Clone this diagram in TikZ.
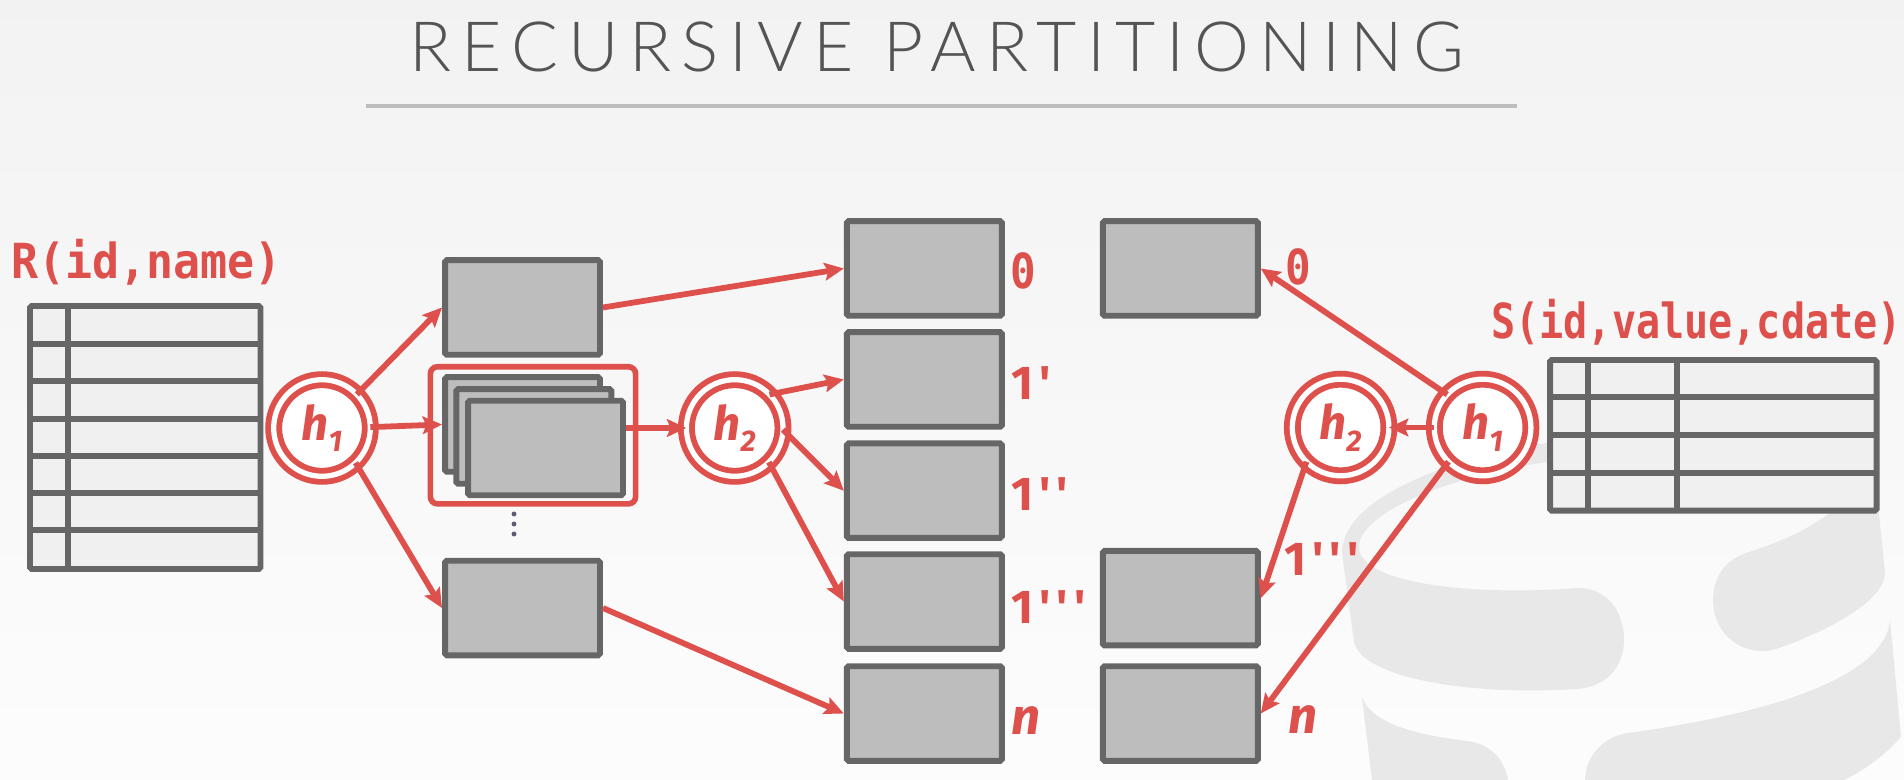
\documentclass[tikz,border=0pt]{standalone}
\usepackage{fontspec}
\usetikzlibrary{arrows.meta}
\newfontfamily\titlefont[LetterSpace=14.9]{Lato Light}
\newfontfamily\labelfont{DejaVu Sans Mono}
\newfontfamily\hashfont{Fira Sans}
\newfontfamily\primefont[LetterSpace=13]{Fira Sans}
\definecolor{slidered}{RGB}{222,80,76}
\definecolor{slidegrey}{RGB}{102,102,102}
\definecolor{slidebox}{RGB}{189,189,189}
\definecolor{slidecell}{RGB}{240,240,240}
\definecolor{slidemark}{RGB}{232,232,232}
\tikzset{
 partbox/.style={draw=slidegrey,fill=slidebox,line width=3.4pt,rounded corners=1pt,minimum width=88.2pt,minimum height=53.8pt,inner sep=0pt},
 hashnode/.style={circle,draw=slidered,double=white,double distance=3pt,line width=3.3pt,fill=white,minimum size=55pt,inner sep=0pt,outer sep=0pt,text=slidered,font=\hashfont\bfseries\itshape\fontsize{27}{30}\selectfont},
 redtext/.style={text=slidered,anchor=base west,inner sep=0pt,font=\labelfont\bfseries\fontsize{27.5}{30}\selectfont},
 primetext/.style={redtext,font=\primefont\bfseries\fontsize{27}{30}\selectfont},
 italtext/.style={redtext,font=\hashfont\bfseries\itshape\fontsize{29}{30}\selectfont},
 link/.style={->,draw=slidered,line width=3.3pt},
 gridline/.style={draw=slidegrey,line width=3.4pt},
}
\newcommand{\hashname}[1]{h\raisebox{-6.8pt}{\fontsize{17}{17}\selectfont #1}}
\newcommand{\narrow}[2]{\scalebox{#1}[1]{#2}}
\begin{document}
\begin{tikzpicture}[>={Stealth[length=11pt,width=10pt,inset=2pt]},x=.02cm,y=-.02cm]
\useasboundingbox (0,0) rectangle (1904,780);
\shade[top color=black!5,bottom color=black!1] (0,0) rectangle (1904,780);
% logo behind everything
\fill[slidemark] (1547,443) .. controls (1480,452) and (1342,490) .. (1342,553) -- (1354,642)
 .. controls (1362,678) and (1470,696) .. (1577,689) .. controls (1605,687) and (1624,668) .. (1624,640)
 .. controls (1624,610) and (1605,587) .. (1577,588) .. controls (1480,596) and (1359,585) .. (1359,547)
 .. controls (1359,515) and (1440,478) .. (1547,462) -- cycle;
\fill[slidemark] (1878,505) -- (1885,573) .. controls (1885,600) and (1830,630) .. (1779,648)
 .. controls (1745,660) and (1713,635) .. (1713,600) .. controls (1713,578) and (1725,560) .. (1746,553)
 .. controls (1780,542) and (1810,530) .. (1840,505) -- cycle;
\fill[slidemark] (1362,697) -- (1372,780) -- (1508,780) .. controls (1505,760) and (1490,743) .. (1466,741)
 .. controls (1420,735) and (1372,725) .. (1362,697) -- cycle;
\fill[slidemark] (1890,620) -- (1901,737) .. controls (1885,755) and (1865,770) .. (1844,780) -- (1585,780)
 .. controls (1585,760) and (1600,737) .. (1628,733) .. controls (1760,715) and (1885,680) .. (1890,620) -- cycle;
% title
\node[text=black!67,inner sep=0pt,anchor=base,font=\titlefont\fontsize{39.5}{45}\selectfont] (title) at (937,72) {RECURSIVE PARTITIONING};
\fill[slidebox] (366,104) rectangle (1517,108);
% R table
\fill[slidecell] (30,306) rectangle (260.5,569);
\foreach \y in {344,381,419,456,493,530}{
 \draw[gridline] (30,\y)--(260.5,\y);
}
\draw[gridline] (68,306)--(68,569);
\draw[gridline,rounded corners=1pt] (30,306) rectangle (260.5,569);
\node[redtext] (rlabel) at (11,279) {\narrow{.93}{R(id,name)}};
% S table
\fill[slidecell] (1550,360) rectangle (1876.5,510.7);
\foreach \y in {397,435,472.7}{
 \draw[gridline] (1550,\y)--(1876.5,\y);
}
\draw[gridline] (1587.5,360)--(1587.5,510.7);
\draw[gridline] (1676.5,360)--(1676.5,510.7);
\draw[gridline,rounded corners=1pt] (1550,360) rectangle (1876.5,510.7);
\node[redtext] (slabel) at (1491,339) {\narrow{.83}{S(id,value,cdate)}};
% first level
\foreach \n/\x/\y in {boxA/522.5/307.5,boxB/522.5/608,stackA/522.5/424.5,stackB/533.8/436.5,stackC/545.5/448}{
 \node[partbox] (\n) at (\x,\y) {};
}
\node[draw=slidered,line width=3.2pt,rounded corners=4pt,minimum width=116.8pt,minimum height=78pt,inner sep=0pt] (stackframe) at (533,435.3) {};
\foreach \y in {514,524,534}{
 \fill[slidegrey!90!blue] (514,\y) circle (1.4pt);
}
% partitions
\foreach \n/\x/\y in {outA/924.3/268.5,outB/924.3/379.5,outC/924.3/490.7,outD/924.3/601.5,outE/924.3/713.5,rightA/1180.3/268.5,rightD/1180.3/598.2,rightE/1180.3/713.5}{
 \node[partbox] (\n) at (\x,\y) {};
}
% hashes
\node[hashnode] (hLa) at (322,428) {\hashname{1}};
\node[hashnode] (hLb) at (734.7,428) {\hashname{2}};
\node[hashnode] (hRb) at (1340.6,427.5) {\hashname{2}};
\node[hashnode] (hRa) at (1482.6,427.5) {\hashname{1}};
% partition labels
\node[redtext] at (1010,289) (lblA) {\narrow{.88}{0}};
\node[primetext] at (1011,400) (lblB) {1'};
\node[primetext] at (1011,511) (lblC) {1''};
\node[primetext] at (1011,623) (lblD) {1'''};
\node[italtext] at (1011,734) (lblE) {n};
\node[redtext] at (1285,285) (rlblA) {\narrow{.88}{0}};
\node[primetext] at (1284,575) (rlblD) {1'''};
\node[italtext] at (1288,733) (rlblE) {n};
% links
\draw[link] (hLa.44)--(boxA.west);
\draw[link] (hLa.1)--(stackA.west);
\draw[link] (hLa.-46)--(boxB.west);
\draw[link] (boxA.east)--(outA.west);
\draw[link] (boxB.east)--(outE.west);
\draw[link] (stackC.east |- hLb)--(hLb.west);
\draw[link] (hLb.44)--(outB.west);
\draw[link] (hLb.-2)--(outC.west);
\draw[link] (hLb.-45)--(outD.west);
\draw[link] (hRa.137)--(rightA.east);
\draw[link] (hRa.west)--(hRb.east);
\draw[link] (hRb.-135)--(rightD.east);
\draw[link] (hRa.-135)--(rightE.east);
\end{tikzpicture}
\end{document}
